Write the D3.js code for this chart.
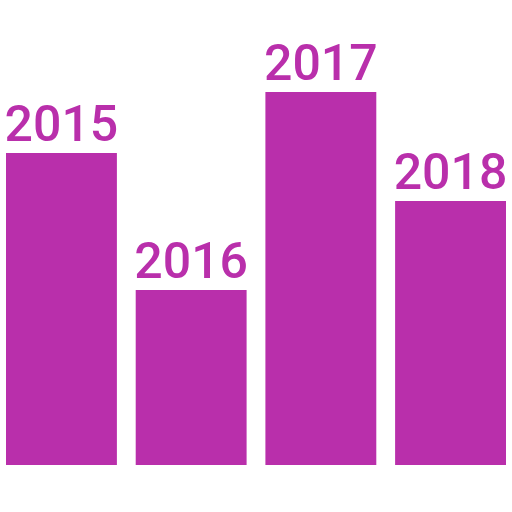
<!DOCTYPE html>
<html><head><meta charset="utf-8">
<script src="https://cdn.jsdelivr.net/npm/d3@7"></script>
<style>html,body{margin:0;padding:0;background:#fff;}svg{display:block;}</style>
</head><body>
<svg id="c" width="512" height="512"></svg>
<script>
const years = ["2015", "2016", "2017", "2018"];
const values = [312, 175, 373, 264];

const svg = d3.select("#c");
const x = d3.scaleBand().domain(years).range([6, 506]).paddingInner(0.145).paddingOuter(0);
const y = d3.scaleLinear().domain([0, 373]).range([465, 92]);
const color = "#b92fab";

const data = years.map((k, i) => ({ k, v: values[i] }));

svg.selectAll("rect").data(data).join("rect")
  .attr("x", d => x(d.k))
  .attr("width", x.bandwidth())
  .attr("y", d => y(d.v))
  .attr("height", d => y(0) - y(d.v))
  .attr("fill", color);

svg.selectAll("text").data(data).join("text")
  .attr("x", d => x(d.k) + x.bandwidth() / 2)
  .attr("y", d => y(d.v) - 12)
  .attr("text-anchor", "middle")
  .attr("font-family", "Roboto, sans-serif")
  .attr("font-weight", 500)
  .attr("font-size", 50)
  .attr("fill", color)
  .text(d => d.k);
</script>
</body></html>
